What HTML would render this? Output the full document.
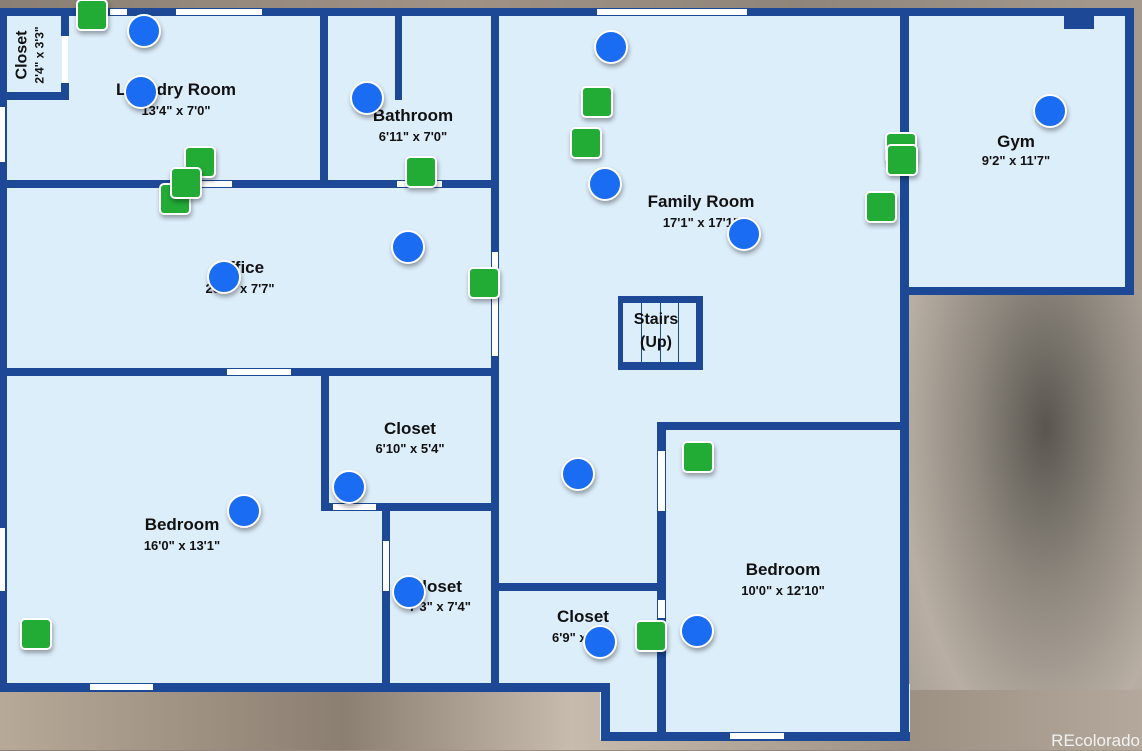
<!DOCTYPE html>
<html><head><meta charset="utf-8"><style>
body{margin:0;width:1142px;height:750px;overflow:hidden;position:relative;font-family:"Liberation Sans",sans-serif;
background:linear-gradient(90deg,#8a7f74 0%,#a09285 40%,#8f857a 70%,#a69a8e 100%);}
.bg2{position:absolute;left:900px;top:290px;width:242px;height:460px;background:radial-gradient(ellipse at 60% 30%,#5a564f 0%,#8d877e 35%,#b8aea3 70%,#a49b91 100%);}
.bg3{position:absolute;left:0;top:690px;width:1142px;height:60px;background:linear-gradient(90deg,#b7a997,#8b7f72 30%,#c7bbae 50%,#9c9183 80%,#b3a89b);}
.f{position:absolute;background:#ddeefb}
.w{position:absolute;background:#1c4896}
.d{position:absolute;background:#fff}
.g{position:absolute;width:28px;height:28px;background:#22ac36;border:2.5px solid #fff;border-radius:5px;box-shadow:1px 3px 5px rgba(0,0,0,.35)}
.b{position:absolute;width:30px;height:30px;background:#1a6cf3;border:2.5px solid #fff;border-radius:50%;box-shadow:1px 3px 5px rgba(0,0,0,.35)}
.t{position:absolute;text-align:center;color:#111;font-weight:bold;transform:translateX(-50%);white-space:nowrap}
.n{font-size:17px}.m{font-size:13px}
</style></head><body>
<div class="bg2"></div><div class="bg3"></div>
<div class="f" style="left:0;top:8px;width:908px;height:684px"></div>
<div class="f" style="left:600px;top:684px;width:310px;height:56px"></div>
<div class="f" style="left:900px;top:8px;width:234px;height:287px"></div>
<div class="w" style="left:0;top:8px;width:1134px;height:8px"></div>
<div class="w" style="left:0;top:8px;width:7px;height:684px"></div>
<div class="w" style="left:0;top:683px;width:610px;height:9px"></div>
<div class="w" style="left:601px;top:683px;width:9px;height:58px"></div>
<div class="w" style="left:601px;top:732px;width:309px;height:9px"></div>
<div class="w" style="left:900px;top:8px;width:9px;height:733px"></div>
<div class="w" style="left:1125px;top:8px;width:9px;height:287px"></div>
<div class="w" style="left:900px;top:287px;width:234px;height:8px"></div>
<div class="w" style="left:1064px;top:12px;width:30px;height:17px"></div>
<div class="w" style="left:491px;top:8px;width:8px;height:684px"></div>
<div class="w" style="left:0;top:180px;width:499px;height:8px"></div>
<div class="w" style="left:320px;top:8px;width:8px;height:180px"></div>
<div class="w" style="left:395px;top:8px;width:7px;height:92px"></div>
<div class="w" style="left:0;top:92px;width:69px;height:8px"></div>
<div class="w" style="left:61px;top:8px;width:8px;height:28px"></div>
<div class="w" style="left:61px;top:83px;width:8px;height:17px"></div>
<div class="w" style="left:0;top:368px;width:499px;height:8px"></div>
<div class="w" style="left:321px;top:368px;width:8px;height:143px"></div>
<div class="w" style="left:321px;top:503px;width:178px;height:8px"></div>
<div class="w" style="left:382px;top:503px;width:8px;height:189px"></div>
<div class="w" style="left:499px;top:583px;width:166px;height:8px"></div>
<div class="w" style="left:657px;top:422px;width:9px;height:319px"></div>
<div class="w" style="left:657px;top:422px;width:252px;height:8px"></div>
<div class="d" style="left:110px;top:9px;width:17px;height:6px"></div>
<div class="d" style="left:176px;top:9px;width:86px;height:6px"></div>
<div class="d" style="left:62px;top:36px;width:6px;height:47px"></div>
<div class="d" style="left:0;top:107px;width:5px;height:55px"></div>
<div class="d" style="left:198px;top:181px;width:34px;height:6px"></div>
<div class="d" style="left:397px;top:181px;width:45px;height:6px"></div>
<div class="d" style="left:492px;top:252px;width:6px;height:104px"></div>
<div class="d" style="left:597px;top:9px;width:150px;height:6px"></div>
<div class="d" style="left:227px;top:369px;width:64px;height:6px"></div>
<div class="d" style="left:333px;top:504px;width:43px;height:6px"></div>
<div class="d" style="left:383px;top:541px;width:6px;height:50px"></div>
<div class="d" style="left:0;top:528px;width:5px;height:63px"></div>
<div class="d" style="left:90px;top:684px;width:63px;height:6px"></div>
<div class="d" style="left:658px;top:451px;width:7px;height:60px"></div>
<div class="d" style="left:658px;top:600px;width:7px;height:18px"></div>
<div class="d" style="left:730px;top:733px;width:54px;height:6px"></div>
<div class="w" style="left:618px;top:296px;width:85px;height:74px"></div>
<div class="f" style="left:623px;top:303px;width:73px;height:59px;background:linear-gradient(90deg,transparent 18px,#1c4896 18px,#1c4896 19px,transparent 19px,transparent 37px,#1c4896 37px,#1c4896 38px,transparent 38px,transparent 55px,#1c4896 55px,#1c4896 56px,transparent 56px),#ddeefb"></div>
<div style="position:absolute;left:31px;top:55px;transform:translate(-50%,-50%) rotate(-90deg);text-align:center;font-weight:bold;color:#111;white-space:nowrap;font-size:16px;line-height:17px">Closet<br><span style="font-size:12px">2'4" x 3'3"</span></div>
<div class="t n" style="left:176px;top:80px">Laundry Room</div><div class="t m" style="left:176px;top:103px">13'4" x 7'0"</div>
<div class="t n" style="left:413px;top:106px">Bathroom</div><div class="t m" style="left:413px;top:129px">6'11" x 7'0"</div>
<div class="t n" style="left:240px;top:258px">Office</div><div class="t m" style="left:240px;top:281px">20'6" x 7'7"</div>
<div class="t n" style="left:701px;top:192px">Family Room</div><div class="t m" style="left:701px;top:215px">17'1" x 17'1"</div>
<div class="t n" style="left:1016px;top:132px">Gym</div><div class="t m" style="left:1016px;top:153px">9'2" x 11'7"</div>
<div class="t" style="left:656px;top:308px;font-size:16px;line-height:23px">Stairs<br>(Up)</div>
<div class="t n" style="left:410px;top:419px">Closet</div><div class="t m" style="left:410px;top:441px">6'10" x 5'4"</div>
<div class="t n" style="left:182px;top:515px">Bedroom</div><div class="t m" style="left:182px;top:538px">16'0" x 13'1"</div>
<div class="t n" style="left:436px;top:577px">Closet</div><div class="t m" style="left:440px;top:599px">7'3" x 7'4"</div>
<div class="t n" style="left:583px;top:607px">Closet</div><div class="t m" style="left:583px;top:630px">6'9" x 4'0"</div>
<div class="t n" style="left:783px;top:560px">Bedroom</div><div class="t m" style="left:783px;top:583px">10'0" x 12'10"</div>
<div style="position:absolute;right:2px;top:731px;color:#f2f2f2;font-size:17px">REcolorado</div>
<div class="g" style="left:76px;top:-1px"></div>
<div class="g" style="left:184px;top:146px"></div>
<div class="g" style="left:159px;top:183px"></div>
<div class="g" style="left:170px;top:167px"></div>
<div class="g" style="left:405px;top:156px"></div>
<div class="g" style="left:468px;top:267px"></div>
<div class="g" style="left:581px;top:86px"></div>
<div class="g" style="left:570px;top:127px"></div>
<div class="g" style="left:885px;top:132px"></div>
<div class="g" style="left:886px;top:144px"></div>
<div class="g" style="left:865px;top:191px"></div>
<div class="g" style="left:682px;top:441px"></div>
<div class="g" style="left:635px;top:620px"></div>
<div class="g" style="left:20px;top:618px"></div>
<div class="b" style="left:127px;top:14px"></div>
<div class="b" style="left:124px;top:75px"></div>
<div class="b" style="left:350px;top:81px"></div>
<div class="b" style="left:391px;top:230px"></div>
<div class="b" style="left:207px;top:260px"></div>
<div class="b" style="left:594px;top:30px"></div>
<div class="b" style="left:588px;top:167px"></div>
<div class="b" style="left:727px;top:217px"></div>
<div class="b" style="left:1033px;top:94px"></div>
<div class="b" style="left:561px;top:457px"></div>
<div class="b" style="left:227px;top:494px"></div>
<div class="b" style="left:332px;top:470px"></div>
<div class="b" style="left:392px;top:575px"></div>
<div class="b" style="left:583px;top:625px"></div>
<div class="b" style="left:680px;top:614px"></div>
</body></html>
